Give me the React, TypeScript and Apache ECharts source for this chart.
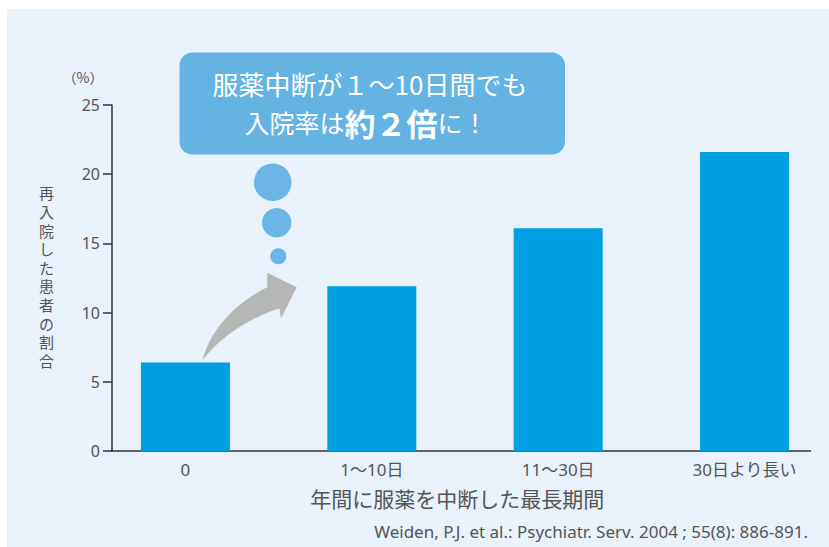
import React, { useEffect, useRef } from "react";
import * as echarts from "echarts";

const categories = ["0", "1〜10日", "11〜30日", "30日より長い"];
const values = [6.4, 11.9, 16.1, 21.6];
const yMin = 0;
const yMax = 25;
const yInterval = 5;
const yAxisTitle = "再入院した患者の割合";
const yUnit = "（%）";
const xAxisTitle = "年間に服薬を中断した最長期間";
const calloutLine1 = "服薬中断が１〜10日間でも";
const calloutLine2a = "入院率は";
const calloutLine2b = "約２倍";
const calloutLine2c = "に！";
const citation = "Weiden, P.J. et al.: Psychiatr. Serv. 2004 ; 55(8): 886-891.";

// category positions on the x axis: the frame starts a little before the first
// category and ends a little after the last one
const xMin = -0.394;
const xMax = 3.354;

const FONT = "'Noto Sans', 'Noto Sans CJK JP', sans-serif";
const JFONT = "'Noto Sans CJK JP', sans-serif";
const VFONT = "'DejaVu Sans', 'Noto Sans CJK JP', sans-serif";

const arrowD =
  "M202.7 360 C210 330 235 303 267.3 287.3 L267.3 272.7 L296.7 287.3 L281 318.3 L279.3 308.3 C250 318 222 335 202.7 360 Z";

let registered = false;
function ensureShape() {
  if (registered) return;
  echarts.graphic.registerShape("arrowShape", echarts.graphic.extendPath(arrowD, {}) as any);
  registered = true;
}

export default function App() {
  const ref = useRef<HTMLDivElement>(null);
  useEffect(() => {
    document.body.style.margin = "0";
    ensureShape();
    const chart = echarts.init(ref.current!, null, { renderer: "svg" });
    chart.setOption({
      animation: false,
      backgroundColor: "#ffffff",
      grid: { left: 112, top: 105, width: 698.5, height: 346 },
      xAxis: {
        type: "value",
        min: xMin,
        max: xMax,
        axisLine: { show: true, onZero: false, lineStyle: { color: "#333", width: 1.5 } },
        axisTick: { show: false },
        splitLine: { show: false },
        axisLabel: {
          customValues: categories.map((_, i) => i),
          formatter: (v: number) => categories[Math.round(v)] ?? "",
          color: "#555",
          fontSize: 17,
          fontFamily: FONT,
          margin: 10,
        },
        name: xAxisTitle,
        nameLocation: "middle",
        nameGap: 36,
        nameTextStyle: { color: "#555", fontSize: 21, fontFamily: JFONT, padding: [0, 8, 0, 0] },
      },
      yAxis: {
        type: "value",
        min: yMin,
        max: yMax,
        interval: yInterval,
        axisLine: { show: true, onZero: false, lineStyle: { color: "#333", width: 1.5 } },
        axisTick: { show: true, length: 9, lineStyle: { color: "#333", width: 1.5 } },
        axisLabel: { color: "#555", fontSize: 16, fontFamily: FONT, margin: 12 },
        splitLine: { show: false },
        name: yAxisTitle.split("").join("\n"),
        nameLocation: "middle",
        nameRotate: 0,
        nameGap: 58,
        nameTextStyle: { color: "#555", fontSize: 15, lineHeight: 18.6, fontFamily: VFONT },
      },
      series: [
        {
          type: "bar",
          data: values.map((v, i) => [i, v]),
          barWidth: 89,
          itemStyle: { color: "#009FE3" },
        },
      ],
      graphic: [
        { type: "rect", z: -10, silent: true, shape: { x: 7, y: 9, width: 822, height: 538 }, style: { fill: "#E9F1FA" } },
        { type: "text", x: 83, y: 77, style: { text: yUnit, fill: "#555", font: `14px ${JFONT}`, align: "center", verticalAlign: "middle" } },
        { type: "rect", shape: { x: 179.5, y: 52.5, width: 385.5, height: 102, r: 13 }, style: { fill: "#64B3E3" } },
        {
          type: "text",
          x: 370,
          y: 83,
          style: { text: calloutLine1, fill: "#fff", font: `26px ${JFONT}`, align: "center", verticalAlign: "middle" },
        },
        {
          type: "text",
          x: 366,
          y: 122,
          style: {
            text: `{n|${calloutLine2a}}{b|${calloutLine2b}}{n|${calloutLine2c}}`,
            align: "center",
            verticalAlign: "middle",
            rich: {
              n: { fill: "#fff", fontSize: 25, fontFamily: JFONT },
              b: { fill: "#fff", fontSize: 31, fontWeight: "bold", fontFamily: JFONT },
            },
          },
        },
        { type: "circle", shape: { cx: 272.7, cy: 182.3, r: 18.7 }, style: { fill: "#6CB5E7" } },
        { type: "circle", shape: { cx: 276.7, cy: 222.7, r: 14.7 }, style: { fill: "#6CB5E7" } },
        { type: "circle", shape: { cx: 278.3, cy: 256.3, r: 8 }, style: { fill: "#6CB5E7" } },
        { type: "arrowShape", x: 0, y: 0, style: { fill: "#B5B6B6" } },
        {
          type: "text",
          x: 808,
          y: 531,
          style: { text: citation, fill: "#555", font: `17px ${FONT}`, align: "right", verticalAlign: "middle" },
        },
      ],
    });
    return () => chart.dispose();
  }, []);
  return <div ref={ref} style={{ width: 829, height: 547 }} />;
}
